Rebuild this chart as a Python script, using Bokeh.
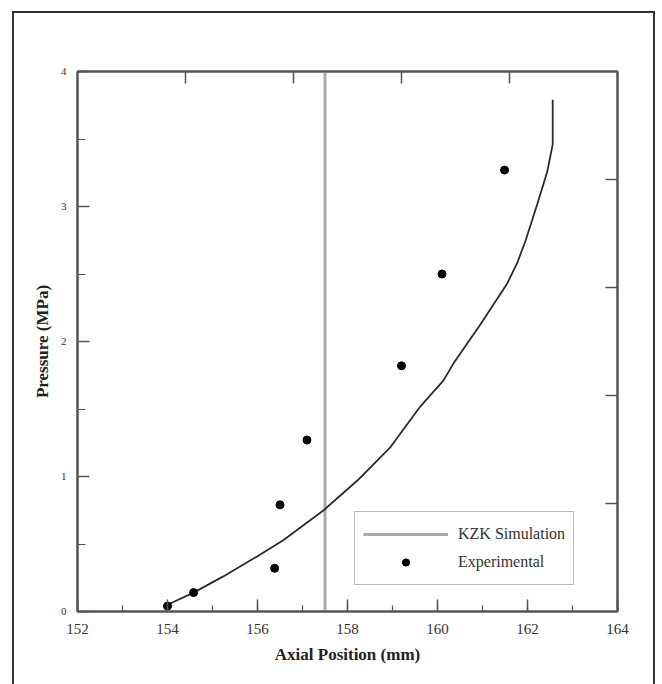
from bokeh.plotting import figure
from bokeh.models import (LinearAxis, Range1d, FixedTicker, Legend, LegendItem)
from bokeh.embed import file_html
from bokeh.resources import INLINE

# ---- data ----
sim_x = [154.0, 154.58, 155.24, 156.0, 156.58, 157.47, 158.22, 158.96, 159.62,
         160.13, 160.36, 160.96, 161.55, 161.77, 161.96, 162.22, 162.44, 162.56, 162.56]
sim_y = [0.05, 0.14, 0.26, 0.41, 0.53, 0.75, 0.97, 1.22, 1.52,
         1.71, 1.84, 2.13, 2.43, 2.58, 2.75, 3.02, 3.26, 3.46, 3.79]
exp_x = [154.0, 154.58, 156.38, 156.5, 157.1, 159.2, 160.1, 161.49]
exp_y = [0.04, 0.14, 0.32, 0.79, 1.27, 1.82, 2.50, 3.27]
focal_x = 157.5
x_ticks = [152, 154, 156, 158, 160, 162, 164]
y_ticks = [0, 1, 2, 3, 4]
x_range = (152, 164)
y_range = (0, 4)

SERIF = "Liberation Serif"
AX = "#555555"

p = figure(width=643, height=680, output_backend="svg", toolbar_location=None,
           x_range=Range1d(*x_range), y_range=Range1d(*y_range),
           x_axis_label="Axial Position (mm)", y_axis_label="Pressure (MPa)",
           min_border_left=63, min_border_top=58, min_border_right=40, min_border_bottom=82)
p.margin = (11, 0, 0, 12)
p.styles = {"border": "2px solid #333333"}
p.grid.visible = False
p.background_fill_color = "white"
p.border_fill_color = "white"
p.outline_line_color = AX
p.outline_line_width = 2

# bottom axis
xa = p.xaxis[0]
xa.ticker = FixedTicker(ticks=x_ticks, minor_ticks=list(range(152, 165)))
# left axis
ya = p.yaxis[0]
ya.ticker = FixedTicker(ticks=y_ticks, minor_ticks=[i * 0.5 for i in range(9)])
for ax in (xa, ya):
    ax.axis_line_color = AX
    ax.axis_line_width = 2
    ax.major_tick_line_color = AX
    ax.minor_tick_line_color = AX
    ax.major_tick_line_width = 1.5
    ax.minor_tick_line_width = 1.2
    ax.major_tick_in = 12
    ax.major_tick_out = 0
    ax.minor_tick_in = 6
    ax.minor_tick_out = 0
    ax.major_label_text_font = SERIF
    ax.major_label_text_color = "#333333"
    ax.axis_label_text_font = SERIF
    ax.axis_label_text_font_style = "bold"
    ax.axis_label_text_font_size = "17px"
    ax.axis_label_text_color = "#222222"
xa.major_label_text_font_size = "15px"
xa.major_label_standoff = 12
xa.axis_label_standoff = 8
ya.major_label_text_font_size = "11px"
ya.major_label_standoff = 11
ya.axis_label_standoff = 6
ya.minor_tick_in = 8

# secondary (unlabelled) axes on top and right
p.extra_x_ranges = {"sec": Range1d(0, 5)}
p.extra_y_ranges = {"sec": Range1d(0, 5)}
top = LinearAxis(x_range_name="sec", ticker=FixedTicker(ticks=[1, 2, 3, 4]),
                 major_label_overrides={1: "", 2: "", 3: "", 4: ""})
right = LinearAxis(y_range_name="sec", ticker=FixedTicker(ticks=[1, 2, 3, 4]),
                   major_label_overrides={1: "", 2: "", 3: "", 4: ""})
for ax in (top, right):
    ax.axis_line_color = AX
    ax.axis_line_width = 2
    ax.major_tick_line_color = AX
    ax.major_tick_line_width = 1.5
    ax.major_tick_in = 12
    ax.major_tick_out = 0
    ax.minor_tick_line_color = None
    ax.major_label_text_font_size = "1px"
p.add_layout(top, "above")
p.add_layout(right, "right")

# vertical focal line
vline = p.segment(x0=[focal_x], y0=[y_range[0]], x1=[focal_x], y1=[y_range[1]],
                  line_color="#a9a9a9", line_width=3)
# simulation curve
p.line(sim_x, sim_y, line_color="#2b2b2b", line_width=1.8)
# experimental points
pts = p.scatter(exp_x, exp_y, size=8, color="black")

legend = Legend(items=[LegendItem(label="KZK Simulation", renderers=[vline]),
                       LegendItem(label="Experimental", renderers=[pts])],
                location=(277, 26))
legend.label_text_font = SERIF
legend.label_text_font_size = "16px"
legend.label_text_color = "#333333"
legend.glyph_width = 85
legend.glyph_height = 18
legend.label_height = 28
legend.label_standoff = 10
legend.spacing = 0
legend.padding = 8
legend.margin = 0
legend.border_line_color = "#777777"
legend.border_line_width = 1.5
legend.background_fill_alpha = 1
p.add_layout(legend)

open("out.html", "w").write(file_html(p, INLINE))
